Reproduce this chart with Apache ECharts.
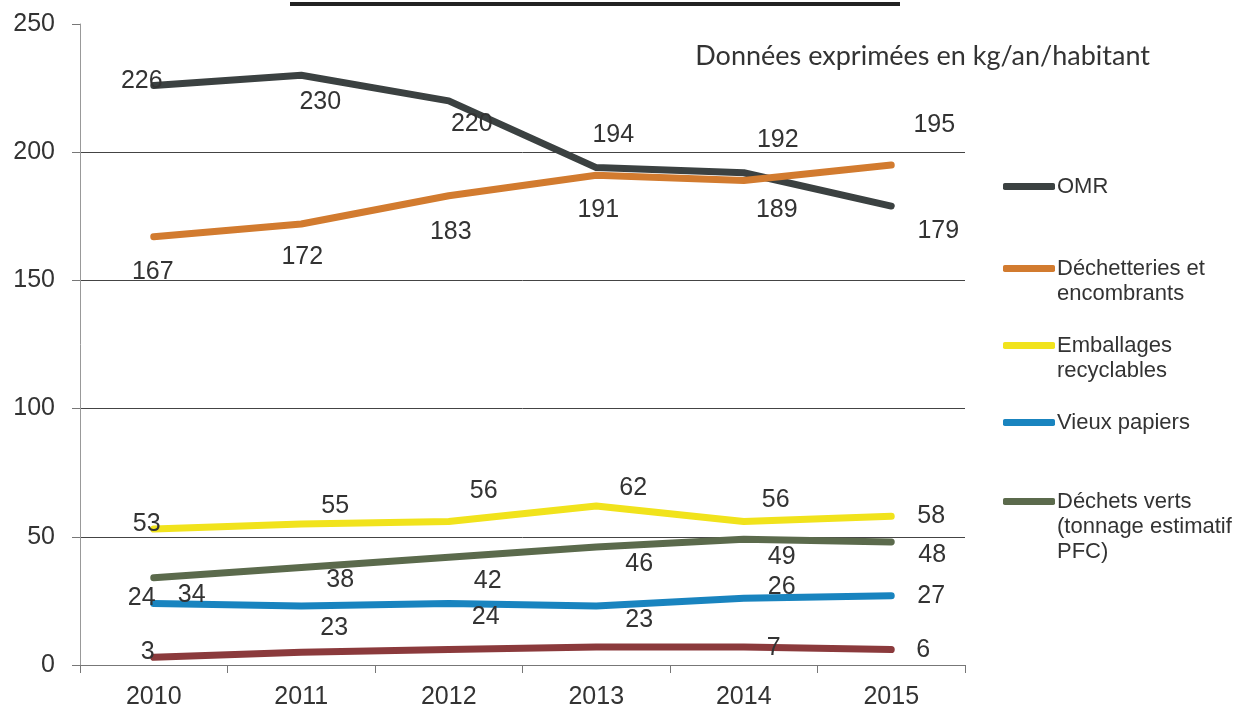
<!DOCTYPE html>
<html>
<head>
<meta charset="utf-8">
<script src="https://cdn.jsdelivr.net/npm/echarts@6/dist/echarts.min.js"></script>
<style>
  html, body { margin: 0; padding: 0; background: #fff; }
  #chart { width: 1244px; height: 710px; }
</style>
</head>
<body>
<div id="chart"></div>
<script>
var years = ["2010", "2011", "2012", "2013", "2014", "2015"];
var yTicks = [0, 50, 100, 150, 200, 250];

var omr = [226, 230, 220, 194, 192, 179];
var decheteries = [167, 172, 183, 191, 189, 195];
var emballages = [53, 55, 56, 62, 56, 58];
var vieuxPapiers = [24, 23, 24, 23, 26, 27];
var dechetsVerts = [34, 38, 42, 46, 49, 48];
var autres = [3, 5, 6, 7, 7, 6];
var autresLabelShown = [true, false, false, false, true, true];

var seriesNames = [
  "OMR",
  "Déchetteries et\nencombrants",
  "Emballages\nrecyclables",
  "Vieux papiers",
  "Déchets verts\n(tonnage estimatif\nPFC)",
  "Autres"
];

var FONT = "Liberation Sans, Arial, sans-serif";
var chart = echarts.init(document.getElementById("chart"));

// label offsets relative to each point (placement only)
var offsets = [
  [[-12, -4], [19, 27], [23, 23], [17, -32], [34, -33], [47, 25]],
  [[-1, 35], [1, 33], [2, 36], [2, 35], [33, 30], [43, -40]],
  [[-7, -5], [34, -18], [35, -30], [37, -18], [32, -21], [40, 0]],
  [[-12, -5], [33, 22], [37, 14], [43, 14], [38, -11], [40, 0]],
  [[38, 17], [39, 13], [39, 24], [43, 17], [38, 18], [41, 13]],
  [[-6, -5], [0, 0], [0, 0], [0, 0], [30, 1], [32, 0]]
];

function buildData(values, idx, shown) {
  return values.map(function (v, i) {
    return {
      value: v,
      label: {
        show: shown ? shown[i] : true,
        position: offsets[idx][i],
        align: "center",
        verticalAlign: "middle"
      }
    };
  });
}

function makeSeries(name, values, idx, color, shown) {
  return {
    name: name,
    type: "line",
    data: buildData(values, idx, shown),
    showSymbol: true,
    symbol: "circle",
    symbolSize: 0,
    color: color,
    lineStyle: { width: 7, color: color, cap: "round", join: "round" },
    label: {
      show: true,
      fontFamily: FONT,
      fontSize: 25,
      color: "#333"
    },
    emphasis: { disabled: true },
    z: 2
  };
}

// centre the legend icon on the first line of a multi-line name
function padName(name) {
  var n = name.split("\n").length;
  return new Array(n).join("\n") + name;
}

var legendTops = [174, 231, 308, 410, 439];
var legends = legendTops.map(function (t, i) {
  return {
    data: [seriesNames[i]],
    left: 1003,
    top: t,
    padding: 0,
    itemWidth: 52,
    itemHeight: 7,
    icon: "roundRect",
    selectedMode: false,
    formatter: padName,
    textStyle: {
      fontFamily: FONT,
      fontSize: 22,
      lineHeight: 25,
      color: "#333",
      padding: [0, 0, 0, -3]
    }
  };
});

var option = {
  backgroundColor: "#fff",
  animation: false,
  title: {
    text: "Données exprimées en kg/an/habitant",
    right: 89,
    top: 38,
    textStyle: {
      fontFamily: "Lato, Open Sans, sans-serif",
      fontWeight: "normal",
      fontSize: 27,
      color: "#333"
    }
  },
  graphic: [
    {
      type: "line",
      shape: { x1: 290, y1: 4, x2: 900, y2: 4 },
      style: { stroke: "#222", lineWidth: 4 }
    }
  ],
  legend: legends,
  grid: { left: 80, right: 279, top: 24, bottom: 43 },
  xAxis: {
    type: "category",
    data: years,
    boundaryGap: true,
    axisLine: { lineStyle: { color: "#777", width: 1 } },
    axisTick: { show: true, length: 8, lineStyle: { color: "#777" } },
    axisLabel: {
      fontFamily: FONT,
      fontSize: 25,
      color: "#333",
      margin: 20
    }
  },
  yAxis: {
    type: "value",
    min: yTicks[0],
    max: yTicks[yTicks.length - 1],
    interval: 50,
    axisLine: { show: true, lineStyle: { color: "#999", width: 1 } },
    axisTick: { show: true, length: 8, lineStyle: { color: "#777" } },
    axisLabel: {
      fontFamily: FONT,
      fontSize: 25,
      color: "#333",
      margin: 25
    },
    splitLine: {
      show: true,
      lineStyle: {
        color: ["#777", "#444", "#444", "#444", "#444", "rgba(0,0,0,0)"],
        width: 1
      }
    }
  },
  series: [
    makeSeries(seriesNames[0], omr, 0, "#3b4141"),
    makeSeries(seriesNames[1], decheteries, 1, "#d27b2f"),
    makeSeries(seriesNames[2], emballages, 2, "#f1e31c"),
    makeSeries(seriesNames[3], vieuxPapiers, 3, "#1984bf"),
    makeSeries(seriesNames[4], dechetsVerts, 4, "#5b6a4c"),
    makeSeries(seriesNames[5], autres, 5, "#8b3a3c", autresLabelShown)
  ]
};

chart.setOption(option);
window.addEventListener("resize", function () {
  chart.resize();
});
</script>
</body>
</html>
